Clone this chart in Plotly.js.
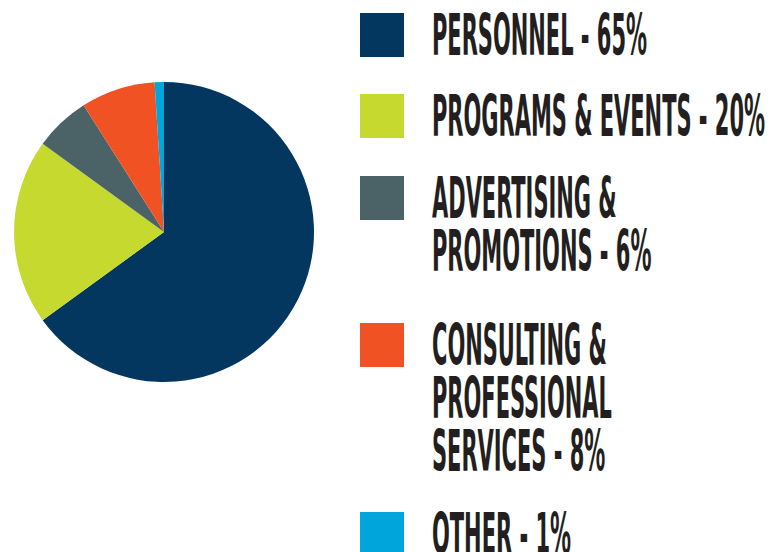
<!DOCTYPE html>
<html>
<head>
<meta charset="utf-8">
<script src="https://cdn.plot.ly/plotly-3.0.1.min.js"></script>
<style>
  html, body { margin: 0; padding: 0; background: #ffffff; }
  #chart { width: 773px; height: 552px; }
</style>
</head>
<body>
<div id="chart"></div>
<script>
// ---- data ----
const categories = ["Personnel", "Programs & Events", "Advertising & Promotions", "Consulting & Professional Services", "Other"];
const values = [65, 20, 6, 8, 1];
const colors = ["#03375f", "#c6d92e", "#4b6366", "#f15224", "#00a5db"];
const legendLines = [
  ["PERSONNEL - 65%"],
  ["PROGRAMS & EVENTS - 20%"],
  ["ADVERTISING &", "PROMOTIONS - 6%"],
  ["CONSULTING &", "PROFESSIONAL", "SERVICES - 8%"],
  ["OTHER - 1%"]
];

// ---- layout helpers ----
const W = 773, H = 552;
const px = x => x / W;
const py = y => 1 - y / H;
const itemCenters = [35, 116, 198, 345, 534];
const lineStep = 53;
const widestLinePx = 333;   // rendered width of the longest legend line
const fontFamily = '"DejaVu Sans Condensed", "DejaVu Sans", sans-serif';

const shapes = [];
const annotations = [];
categories.forEach((c, i) => {
  const cy = itemCenters[i];
  shapes.push({
    type: "rect", xref: "paper", yref: "paper",
    x0: px(360), x1: px(404), y0: py(cy + 22), y1: py(cy - 22),
    fillcolor: colors[i], line: { width: 0 }, layer: "above"
  });
  legendLines[i].forEach((t, j) => {
    annotations.push({
      xref: "paper", yref: "paper",
      x: px(430), y: py(cy + j * lineStep),
      xanchor: "left", yanchor: "middle", align: "left",
      showarrow: false, text: t,
      font: { family: fontFamily, size: 57, color: "#231f20", weight: 700 }
    });
  });
});

const trace = {
  type: "pie",
  labels: categories,
  values: values,
  sort: false,
  direction: "clockwise",
  rotation: 0,
  marker: { colors: colors, line: { width: 0 } },
  textinfo: "none",
  hoverinfo: "none",
  showlegend: false,
  domain: { x: [px(14), px(314)], y: [py(383), py(81)] }
};

const layout = {
  width: W, height: H,
  margin: { l: 0, r: 0, t: 0, b: 0 },
  paper_bgcolor: "#ffffff",
  plot_bgcolor: "#ffffff",
  showlegend: false,
  shapes: shapes,
  annotations: annotations
};

Plotly.newPlot("chart", [trace], layout, { staticPlot: true, displayModeBar: false }).then(() => {
  // condense the legend type horizontally to mimic the narrow display face
  const texts = Array.from(document.querySelectorAll(".annotation-text"));
  const lens = texts.map(t => t.getComputedTextLength());
  const scale = widestLinePx / Math.max.apply(null, lens);
  texts.forEach((t, k) => {
    t.setAttribute("textLength", (lens[k] * scale).toFixed(1));
    t.setAttribute("lengthAdjust", "spacingAndGlyphs");
  });
});
</script>
</body>
</html>
